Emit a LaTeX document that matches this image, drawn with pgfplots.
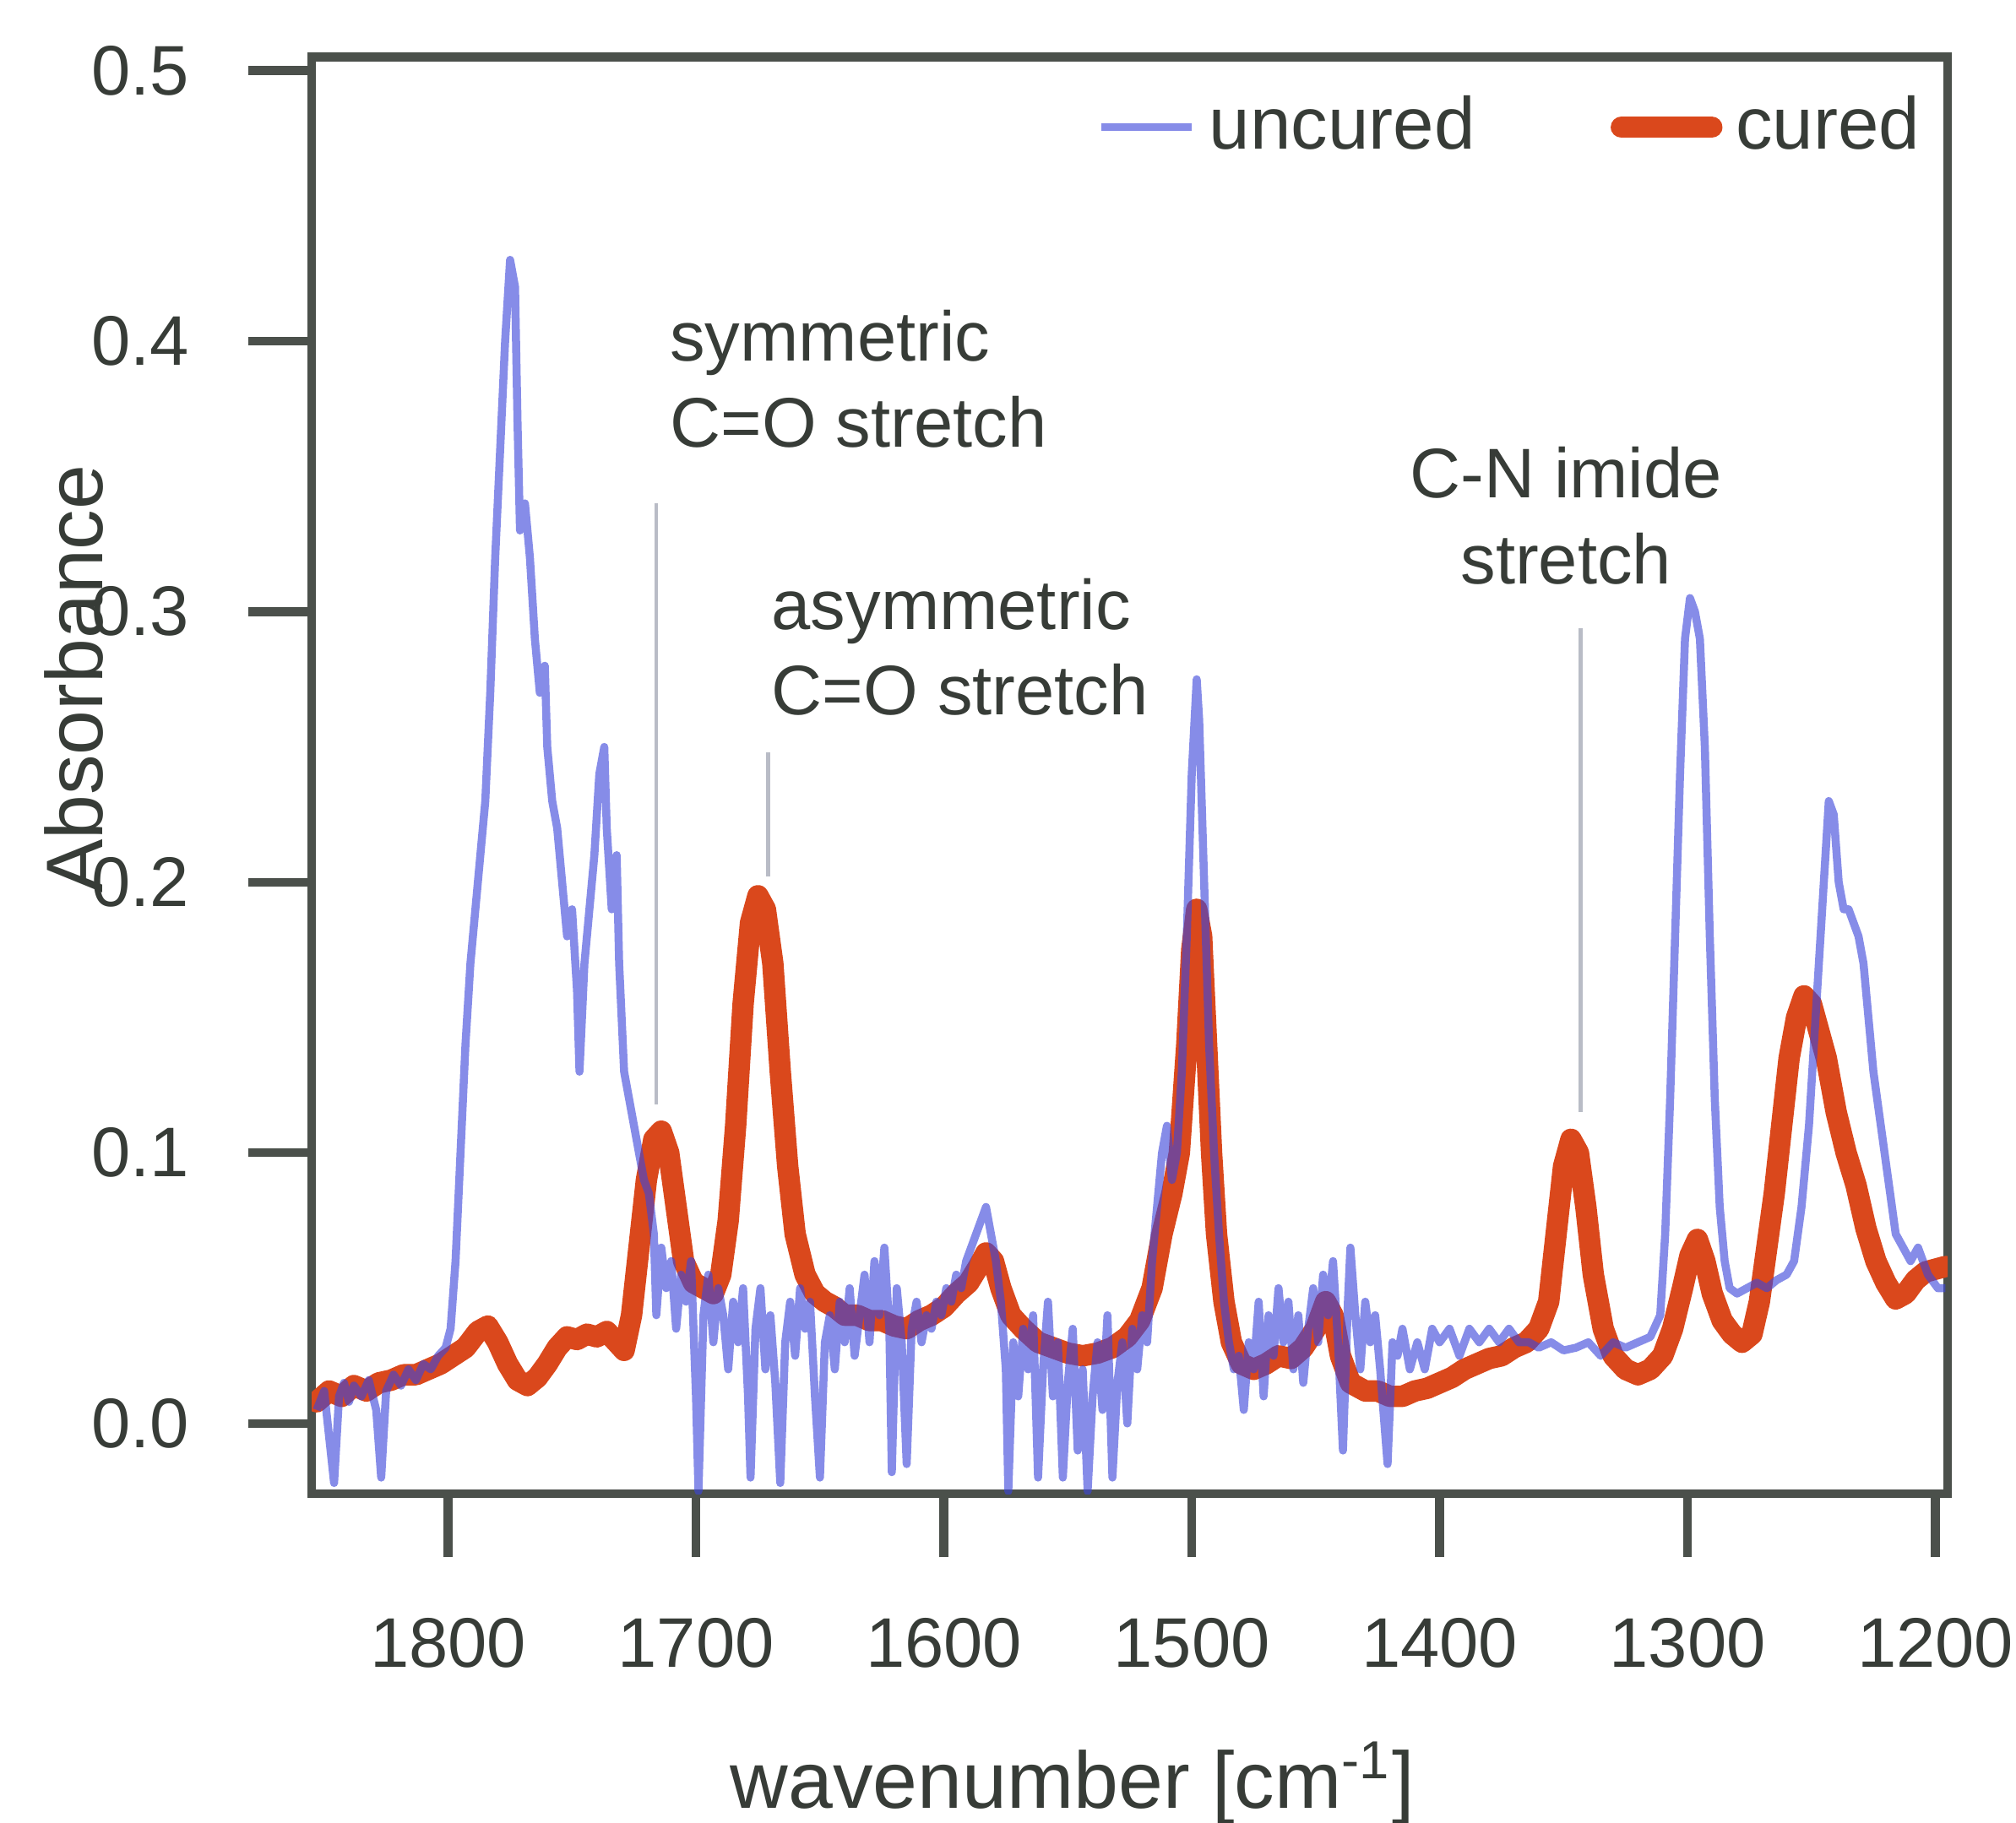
\documentclass[border=0pt]{standalone}
\usepackage{fontspec}
\setmainfont{Liberation Sans}
\usepackage{pgfplots}
\pgfplotsset{compat=1.18}
\usetikzlibrary{calc}

\definecolor{uncuredblue}{RGB}{60,70,218}
\definecolor{curedred}{RGB}{218,72,28}
\definecolor{axgray}{RGB}{75,80,75}
\definecolor{txtgray}{RGB}{55,60,55}
\definecolor{pointergray}{RGB}{185,188,198}

\pgfplotsset{
  uncuredline/.style={uncuredblue, line width=1.2pt, draw opacity=0.62, line join=round},
  curedline/.style={curedred, line width=3.2pt, line join=round, line cap=round},
}

\begin{document}
\begin{tikzpicture}
\begin{axis}[
    name=ax,
    scale only axis,
    width=244.5pt, height=214.8pt,
    x dir=reverse,
    xmin=1195, xmax=1855,
    ymin=-0.026, ymax=0.505,
    xtick={1200,1300,1400,1500,1600,1700,1800},
    ytick={0,0.1,0.2,0.3,0.4,0.5},
    tick pos=left,
    tick align=outside,
    major tick length=9.5pt,
    axis line style={line width=1.3pt, axgray},
    tick style={line width=1.3pt, axgray},
    /pgf/number format/assume math mode=true,
    xticklabel style={font=\fontsize{10.5}{12}\selectfont, text=txtgray,
        /pgf/number format/1000 sep={}},
    yticklabel style={font=\fontsize{10.5}{12}\selectfont, text=txtgray,
        /pgf/number format/.cd, fixed, fixed zerofill, precision=1},
    xticklabel shift=5.5pt,
    yticklabel shift=5.3pt,
    legend style={draw=none, fill=none, inner sep=0pt,
        at={(0.992,0.951)}, anchor=east,
        font=\fontsize{11}{13}\selectfont, text=txtgray},
    legend columns=2,
    legend image code/.code={\draw[#1] (0pt,0pt) -- (13.5pt,0pt);},
]

\addlegendimage{uncuredline}
\addlegendentry{\makebox[58pt][l]{uncured}}
\addlegendimage{curedline}
\addlegendentry{cured}

% cured spectrum
\addplot[curedline, forget plot] coordinates {
(1853,0.008)(1848,0.012)(1843,0.010)(1838,0.014)(1833,0.012)(1828,0.015)
(1823,0.016)(1818,0.018)(1813,0.018)(1808,0.020)(1803,0.022)(1798,0.025)
(1793,0.028)(1788,0.034)(1784,0.036)(1780,0.030)(1776,0.022)(1772,0.016)
(1768,0.014)(1764,0.017)(1760,0.022)(1756,0.028)(1752,0.032)(1748,0.031)
(1744,0.033)(1740,0.032)(1736,0.034)(1732,0.030)(1729,0.027)(1726,0.040)
(1723,0.065)(1720,0.090)(1717,0.105)(1714,0.108)(1711,0.100)(1708,0.080)
(1705,0.060)(1701,0.052)(1697,0.050)(1693,0.048)(1690,0.055)(1687,0.075)
(1684,0.110)(1681,0.155)(1678,0.185)(1675,0.195)(1672,0.190)(1669,0.170)
(1666,0.130)(1663,0.095)(1660,0.070)(1656,0.055)(1652,0.048)(1648,0.045)
(1644,0.043)(1640,0.040)(1635,0.040)(1630,0.038)(1625,0.038)(1620,0.036)
(1615,0.035)(1610,0.038)(1605,0.040)(1600,0.043)(1595,0.048)(1590,0.052)
(1586,0.058)(1583,0.063)(1580,0.060)(1577,0.050)(1573,0.040)(1568,0.035)
(1562,0.030)(1556,0.028)(1550,0.026)(1544,0.025)(1538,0.026)(1532,0.028)
(1526,0.032)(1521,0.038)(1516,0.050)(1512,0.070)(1508,0.085)(1505,0.100)
(1502,0.140)(1500,0.175)(1498,0.190)(1496,0.180)(1494,0.140)(1492,0.100)
(1490,0.070)(1487,0.045)(1484,0.030)(1480,0.022)(1475,0.020)(1470,0.022)
(1465,0.025)(1460,0.024)(1455,0.028)(1450,0.035)(1446,0.045)(1443,0.040)
(1440,0.025)(1436,0.015)(1430,0.012)(1425,0.012)(1420,0.010)(1415,0.010)
(1410,0.012)(1405,0.013)(1400,0.015)(1395,0.017)(1390,0.020)(1385,0.022)
(1380,0.024)(1375,0.025)(1370,0.028)(1365,0.030)(1360,0.035)(1356,0.045)
(1353,0.070)(1350,0.095)(1347,0.105)(1344,0.100)(1341,0.080)(1338,0.055)
(1334,0.035)(1330,0.025)(1325,0.020)(1320,0.018)(1315,0.020)(1310,0.025)
(1306,0.035)(1302,0.050)(1299,0.062)(1296,0.068)(1293,0.060)(1290,0.048)
(1286,0.038)(1282,0.033)(1278,0.030)(1274,0.033)(1271,0.045)(1268,0.065)
(1265,0.085)(1262,0.110)(1259,0.135)(1256,0.150)(1253,0.158)(1250,0.155)
(1247,0.145)(1244,0.135)(1240,0.115)(1236,0.100)(1232,0.088)(1228,0.072)
(1224,0.060)(1220,0.052)(1216,0.046)(1212,0.048)(1208,0.053)(1204,0.056)
(1200,0.057)(1196,0.058)
};

% uncured spectrum
\addplot[uncuredline, forget plot] coordinates {
(1853,0.005)(1850,0.012)(1848,-0.005)(1846,-0.022)(1844,0.010)(1842,0.015)
(1840,0.008)(1838,0.014)(1835,0.010)(1832,0.016)(1829,0.005)(1827,-0.020)
(1825,0.012)(1822,0.018)(1819,0.014)(1816,0.020)(1813,0.016)(1810,0.022)
(1807,0.020)(1804,0.025)(1801,0.028)(1799,0.035)(1797,0.060)(1795,0.100)
(1793,0.140)(1791,0.170)(1789,0.190)(1787,0.210)(1785,0.230)(1783,0.270)
(1781,0.320)(1779,0.360)(1777,0.400)(1775,0.430)(1773,0.420)(1772,0.370)
(1771,0.330)(1769,0.340)(1767,0.320)(1765,0.290)(1763,0.270)(1761,0.280)
(1760,0.250)(1758,0.230)(1756,0.220)(1754,0.200)(1752,0.180)(1750,0.190)
(1748,0.160)(1747,0.130)(1745,0.170)(1743,0.190)(1741,0.210)(1739,0.240)
(1737,0.250)(1736,0.220)(1734,0.190)(1732,0.210)(1731,0.170)(1729,0.130)
(1727,0.120)(1725,0.110)(1723,0.100)(1721,0.090)(1719,0.085)(1717,0.070)
(1716,0.040)(1714,0.065)(1712,0.050)(1710,0.060)(1708,0.035)(1706,0.055)
(1704,0.045)(1702,0.060)(1700,0.010)(1699,-0.025)(1697,0.040)(1695,0.055)
(1693,0.030)(1691,0.050)(1689,0.040)(1687,0.020)(1685,0.045)(1683,0.030)
(1681,0.050)(1679,0.010)(1678,-0.020)(1676,0.035)(1674,0.050)(1672,0.020)
(1670,0.040)(1668,0.015)(1666,-0.022)(1664,0.030)(1662,0.045)(1660,0.025)
(1658,0.050)(1656,0.035)(1654,0.045)(1652,0.010)(1650,-0.020)(1648,0.030)
(1646,0.040)(1644,0.020)(1642,0.045)(1640,0.030)(1638,0.050)(1636,0.025)
(1634,0.040)(1632,0.055)(1630,0.030)(1628,0.060)(1626,0.040)(1624,0.065)
(1622,0.035)(1621,-0.018)(1619,0.050)(1617,0.030)(1615,-0.015)(1613,0.035)
(1611,0.045)(1609,0.030)(1607,0.040)(1605,0.035)(1603,0.045)(1601,0.040)
(1599,0.050)(1597,0.045)(1595,0.055)(1593,0.050)(1591,0.060)(1589,0.065)
(1587,0.070)(1585,0.075)(1583,0.080)(1581,0.070)(1579,0.060)(1577,0.045)
(1575,0.020)(1574,-0.025)(1572,0.030)(1570,0.010)(1568,0.035)(1566,0.020)
(1564,0.040)(1562,-0.020)(1560,0.020)(1558,0.045)(1556,0.010)(1554,0.030)
(1552,-0.020)(1550,0.015)(1548,0.035)(1546,-0.010)(1544,0.020)(1542,-0.025)
(1540,0.010)(1538,0.030)(1536,0.005)(1534,0.040)(1532,-0.020)(1530,0.015)
(1528,0.030)(1526,0.000)(1524,0.035)(1522,0.020)(1520,0.040)(1518,0.030)
(1516,0.060)(1514,0.080)(1512,0.100)(1510,0.110)(1508,0.090)(1506,0.100)
(1504,0.130)(1502,0.180)(1500,0.240)(1498,0.275)(1497,0.260)(1495,0.200)
(1493,0.140)(1491,0.100)(1489,0.070)(1487,0.045)(1485,0.030)(1483,0.020)
(1481,0.025)(1479,0.005)(1477,0.030)(1475,0.020)(1473,0.045)(1471,0.010)
(1469,0.040)(1467,0.025)(1465,0.050)(1463,0.030)(1461,0.045)(1459,0.020)
(1457,0.040)(1455,0.015)(1453,0.035)(1451,0.050)(1449,0.030)(1447,0.055)
(1445,0.040)(1443,0.060)(1441,0.030)(1439,-0.010)(1437,0.045)(1436,0.065)
(1434,0.040)(1432,0.020)(1430,0.045)(1428,0.030)(1426,0.040)(1424,0.020)
(1421,-0.015)(1419,0.030)(1417,0.025)(1415,0.035)(1412,0.020)(1409,0.030)
(1406,0.020)(1403,0.035)(1400,0.030)(1396,0.035)(1392,0.025)(1388,0.035)
(1384,0.030)(1380,0.035)(1376,0.030)(1372,0.035)(1368,0.030)(1364,0.030)
(1360,0.028)(1355,0.030)(1350,0.027)(1345,0.028)(1340,0.030)(1335,0.025)
(1330,0.030)(1325,0.028)(1320,0.030)(1315,0.032)(1311,0.040)(1309,0.070)
(1307,0.120)(1305,0.180)(1303,0.240)(1301,0.290)(1299,0.305)(1297,0.300)
(1295,0.290)(1293,0.250)(1291,0.180)(1289,0.120)(1287,0.080)(1285,0.060)
(1283,0.050)(1280,0.048)(1276,0.050)(1272,0.052)(1268,0.050)(1264,0.053)
(1260,0.055)(1257,0.060)(1254,0.080)(1251,0.110)(1249,0.140)(1247,0.170)
(1245,0.200)(1243,0.230)(1241,0.225)(1239,0.200)(1237,0.190)(1235,0.190)
(1233,0.185)(1231,0.180)(1229,0.170)(1227,0.150)(1225,0.130)(1222,0.110)
(1219,0.090)(1216,0.070)(1213,0.065)(1210,0.060)(1207,0.065)(1203,0.055)
(1199,0.050)(1196,0.050)
};

% pointer lines and band labels
\draw[pointergray, line width=0.6pt] (axis cs:1716,0.340) -- (axis cs:1716,0.118);
\draw[pointergray, line width=0.6pt] (axis cs:1671,0.248) -- (axis cs:1671,0.202);
\draw[pointergray, line width=0.6pt] (axis cs:1343,0.294) -- (axis cs:1343,0.115);

\node[anchor=west, align=left, inner sep=0pt, text=txtgray,
      font=\fontsize{10.5}{12.8}\selectfont] at (axis cs:1711,0.386)
      {symmetric\\C=O stretch};
\node[anchor=west, align=left, inner sep=0pt, text=txtgray,
      font=\fontsize{10.5}{12.8}\selectfont] at (axis cs:1670,0.287)
      {asymmetric\\C=O stretch};
\node[anchor=center, align=center, inner sep=0pt, text=txtgray,
      font=\fontsize{10.5}{12.8}\selectfont] at (axis cs:1349,0.3355)
      {C-N imide\\stretch};
\end{axis}

\node[rotate=90, text=txtgray, font=\fontsize{12}{14}\selectfont]
  at ($(ax.south west)!0.567!(ax.north west)+(-35.6pt,0)$) {Absorbance};
\node[text=txtgray, font=\fontsize{12}{14}\selectfont]
  at ($(ax.south west)!0.465!(ax.south east)+(0,-43.3pt)$) {wavenumber [cm\textsuperscript{-1}]};

\pgfresetboundingbox
\path[use as bounding box] ($(ax.south west)+(-46.6pt,-49.1pt)$) rectangle ($(ax.north east)+(10.2pt,8.5pt)$);
\end{tikzpicture}
\end{document}
